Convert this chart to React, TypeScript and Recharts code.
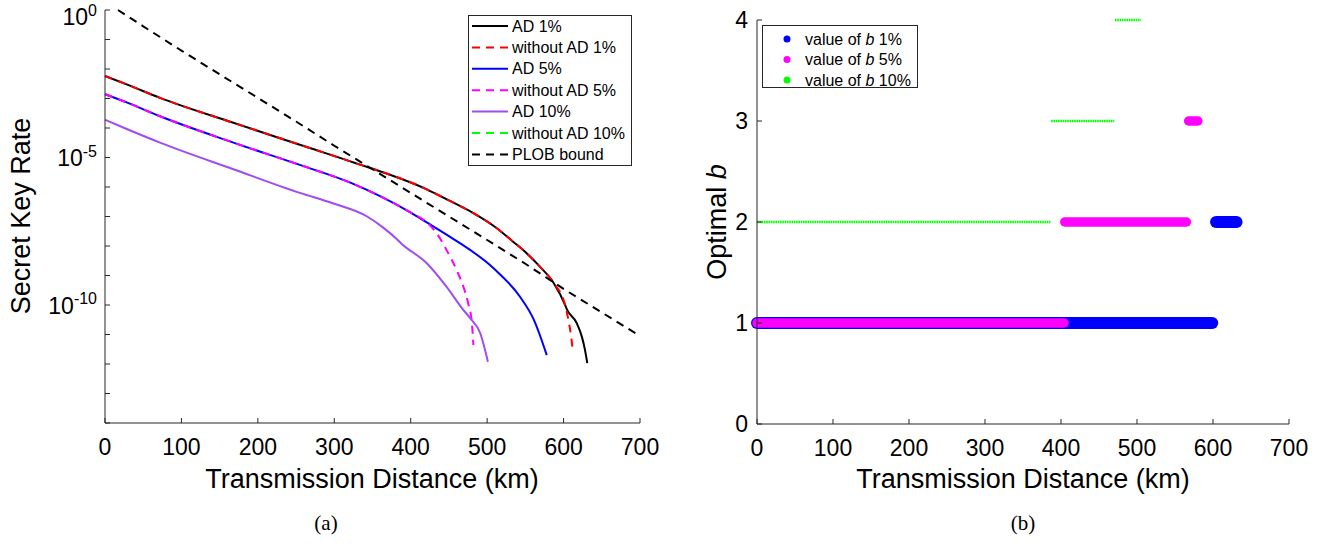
import { LineChart, Line, XAxis, YAxis } from 'recharts';

// distance ticks (km), shared by both panels
const KM_TICKS = [0, 100, 200, 300, 400, 500, 600, 700];
// one tick per decade, labels only on 1e0, 1e-5, 1e-10
const RATE_TICKS = [1, 1e-1, 1e-2, 1e-3, 1e-4, 1e-5, 1e-6, 1e-7, 1e-8, 1e-9, 1e-10, 1e-11, 1e-12, 1e-13, 1e-14];
const B_TICKS = [0, 1, 2, 3, 4];

// (a) secret key rate vs distance
const AD1_KM = [0, 30, 72, 168, 268, 321, 421, 450, 482, 510, 534, 552, 569, 587, 602, 604, 617, 624, 628, 631];
const AD1_RATE = [5.8e-3, 2.9e-3, 1.05e-3, 1.5e-4, 2.1e-5, 7.4e-6, 8.3e-7, 3.5e-7, 1.3e-7, 4.5e-8, 1.4e-8, 5.6e-9, 2.0e-9, 5.6e-10, 1.0e-10, 7.4e-11, 2.5e-11, 8.3e-12, 3.0e-12, 1.07e-12];
const NOAD1_KM = [0, 30, 72, 168, 268, 321, 421, 450, 482, 510, 534, 552, 569, 587, 602, 607, 610, 612];
const NOAD1_RATE = [5.8e-3, 2.9e-3, 1.05e-3, 1.5e-4, 2.1e-5, 7.4e-6, 8.3e-7, 3.5e-7, 1.3e-7, 4.5e-8, 1.4e-8, 5.6e-9, 2.0e-9, 5.6e-10, 1.0e-10, 2.5e-11, 8.3e-12, 2.8e-12];
const AD5_KM = [0, 30, 72, 168, 255, 321, 399, 421, 452, 508, 543, 561, 578];
const AD5_RATE = [1.4e-3, 7.1e-4, 2.5e-4, 3.2e-5, 5.6e-6, 1.4e-6, 1.4e-7, 6.3e-8, 2.0e-8, 1.8e-9, 1.9e-10, 3.2e-11, 2.0e-12];
const NOAD5_KM = [0, 30, 72, 168, 255, 321, 399, 421, 434, 447, 460, 469, 475, 480, 482];
const NOAD5_RATE = [1.4e-3, 7.1e-4, 2.5e-4, 3.2e-5, 5.6e-6, 1.4e-6, 1.4e-7, 6.3e-8, 2.7e-8, 7.2e-9, 1.55e-9, 4.1e-10, 1.2e-10, 2.5e-11, 4.4e-12];
const AD10_KM = [0, 30, 72, 168, 255, 298, 343, 364, 382, 388, 421, 447, 467, 478, 491, 501];
const AD10_RATE = [1.9e-4, 8.9e-5, 3.2e-5, 4.0e-6, 6.3e-7, 2.8e-7, 1.0e-7, 4.2e-8, 1.7e-8, 1.2e-8, 2.6e-9, 4.1e-10, 7.9e-11, 3.5e-11, 1.1e-11, 1.2e-12];
const NOAD10_KM: number[] = [];
const NOAD10_RATE: number[] = [];
const PLOB_KM = [17, 50, 100, 150, 200, 250, 300, 350, 400, 450, 500, 550, 600, 650, 700];
const PLOB_RATE = [1.0, 0.28, 0.042, 6.6e-3, 1.05e-3, 1.66e-4, 2.5e-5, 4.0e-6, 6.3e-7, 1.0e-7, 1.6e-8, 2.5e-9, 3.5e-10, 5.6e-11, 8.9e-12];

// (b) optimal b: runs of constant b, [from km, to km, b]
const B1_FROM = [0, 604];
const B1_TO = [599, 631];
const B1_VAL = [1, 2];
const B5_FROM = [0, 405, 568];
const B5_TO = [404, 565, 580];
const B5_VAL = [1, 2, 3];
const B10_FROM = [0, 387, 471];
const B10_TO = [386, 470, 505];
const B10_VAL = [2, 3, 4];

const FONT = '"Liberation Sans", Arial, Helvetica, sans-serif';
const AXIS = '#262626';

const zip = (km: number[], v: number[]) => km.map((k, i) => ({ km: k, v: v[i] }));

const rateSeries = [
  { name: 'AD 1%', km: AD1_KM, rate: AD1_RATE, color: '#000000', dash: undefined, type: 'monotone' },
  { name: 'without AD 1%', km: NOAD1_KM, rate: NOAD1_RATE, color: '#ff0000', dash: '8 6', type: 'monotone' },
  { name: 'AD 5%', km: AD5_KM, rate: AD5_RATE, color: '#0000ff', dash: undefined, type: 'monotone' },
  { name: 'without AD 5%', km: NOAD5_KM, rate: NOAD5_RATE, color: '#ff00ff', dash: '8 6', type: 'monotone' },
  { name: 'AD 10%', km: AD10_KM, rate: AD10_RATE, color: '#a04cf2', dash: undefined, type: 'monotone' },
  { name: 'without AD 10%', km: NOAD10_KM, rate: NOAD10_RATE, color: '#00ff00', dash: '8 6', type: 'monotone' },
  { name: 'PLOB bound', km: PLOB_KM, rate: PLOB_RATE, color: '#000000', dash: '8 6', type: 'linear' },
];

const bSeries = [
  { name: '1%', from: B1_FROM, to: B1_TO, val: B1_VAL, color: '#0000ff', width: 12, dash: undefined, cap: 'round' },
  { name: '5%', from: B5_FROM, to: B5_TO, val: B5_VAL, color: '#ff00ff', width: 9.5, dash: undefined, cap: 'round' },
  { name: '10%', from: B10_FROM, to: B10_TO, val: B10_VAL, color: '#00ff00', width: 2.4, dash: '1.6 0.7', cap: 'butt' },
];

function LogTick(props: any) {
  const { x, y, payload } = props;
  const exp = Math.round(Math.log10(payload.value));
  if (exp % 5 !== 0) return <g />;
  // keep the top label inside the figure, as the original does
  const base = Math.max(y + 8.5, 25);
  return (
    <text x={x} y={base} textAnchor="end" fontFamily={FONT} fill="#000">
      <tspan fontSize={23}>10</tspan>
      <tspan fontSize={16} dy={-9.5}>{exp}</tspan>
    </text>
  );
}

const tickStyle = { fontSize: 23, fill: '#000', fontFamily: FONT };

function RateChart() {
  return (
    <LineChart width={670} height={500} margin={{ top: 10, right: 30, bottom: 17, left: 0 }}>
      <XAxis dataKey="km" type="number" domain={[0, 700]} ticks={KM_TICKS} interval={0} height={60}
        tickSize={-5} tickMargin={21} tick={tickStyle} axisLine={{ stroke: AXIS }} tickLine={{ stroke: AXIS }} />
      <XAxis xAxisId="top" orientation="top" dataKey="km" type="number" domain={[0, 700]} ticks={KM_TICKS}
        interval={0} height={0} mirror tick={false} axisLine={{ stroke: AXIS }} tickLine={{ stroke: AXIS }} tickSize={5} />
      <YAxis dataKey="v" type="number" scale="log" domain={[1e-14, 1]} ticks={RATE_TICKS} interval={0} width={105}
        tickSize={-5} tickMargin={13} tick={<LogTick />} axisLine={{ stroke: AXIS }} tickLine={{ stroke: AXIS }} />
      <YAxis yAxisId="right" orientation="right" dataKey="v" type="number" scale="log" domain={[1e-14, 1]}
        ticks={RATE_TICKS} interval={0} width={0} mirror tick={false} axisLine={{ stroke: AXIS }} tickLine={{ stroke: AXIS }} tickSize={5} />
      {rateSeries.map((s) => (
        <Line key={s.name} data={zip(s.km, s.rate)} dataKey="v" name={s.name} type={s.type as any}
          stroke={s.color} strokeWidth={2} strokeDasharray={s.dash} dot={false} isAnimationActive={false} />
      ))}
    </LineChart>
  );
}

function BChart() {
  return (
    <LineChart width={670} height={500} margin={{ top: 20, right: 51, bottom: 16, left: 0 }}>
      <XAxis dataKey="km" type="number" domain={[0, 700]} ticks={KM_TICKS} interval={0} height={60}
        tickSize={-5} tickMargin={21} tick={tickStyle} axisLine={{ stroke: AXIS }} tickLine={{ stroke: AXIS }} />
      <XAxis xAxisId="top" orientation="top" dataKey="km" type="number" domain={[0, 700]} ticks={KM_TICKS}
        interval={0} height={0} mirror tick={false} axisLine={{ stroke: AXIS }} tickLine={{ stroke: AXIS }} tickSize={5} />
      <YAxis dataKey="b" type="number" domain={[0, 4]} ticks={B_TICKS} interval={0} width={87}
        tickSize={-5} tickMargin={14} tick={tickStyle} axisLine={{ stroke: AXIS }} tickLine={{ stroke: AXIS }} />
      <YAxis yAxisId="right" orientation="right" dataKey="b" type="number" domain={[0, 4]} ticks={B_TICKS}
        interval={0} width={0} mirror tick={false} axisLine={{ stroke: AXIS }} tickLine={{ stroke: AXIS }} tickSize={5} />
      {bSeries.flatMap((s) =>
        s.from.map((f, i) => (
          <Line key={s.name + i} data={[{ km: f, b: s.val[i] }, { km: s.to[i], b: s.val[i] }]} dataKey="b"
            type="linear" stroke={s.color} strokeWidth={s.width} strokeLinecap={s.cap as any}
            strokeDasharray={s.dash} dot={false} isAnimationActive={false} />
        ))
      )}
    </LineChart>
  );
}

function Overlay() {
  const legendY = (i: number) => 26 + i * 21.4;
  return (
    <svg width={1340} height={544} style={{ position: 'absolute', left: 0, top: 0, pointerEvents: 'none' }}
      fontFamily={FONT}>
      <text x={30} y={216} transform="rotate(-90 30 216)" textAnchor="middle" fontSize={27}>Secret Key Rate</text>
      <text x={372} y={488} textAnchor="middle" fontSize={27}>Transmission Distance (km)</text>
      <text x={726} y={222} transform="rotate(-90 726 222)" textAnchor="middle" fontSize={27}>
        Optimal <tspan fontStyle="italic">b</tspan>
      </text>
      <text x={1023} y={488} textAnchor="middle" fontSize={27}>Transmission Distance (km)</text>
      <text x={326} y={530} textAnchor="middle" fontSize={21} fontFamily='"Liberation Serif", serif'>(a)</text>
      <text x={1023} y={530} textAnchor="middle" fontSize={21} fontFamily='"Liberation Serif", serif'>(b)</text>

      <rect x={468.5} y={15.5} width={163} height={150} fill="#fff" stroke={AXIS} />
      {rateSeries.map((s, i) => (
        <g key={s.name}>
          <line x1={472} x2={508} y1={legendY(i)} y2={legendY(i)} stroke={s.color} strokeWidth={2}
            strokeDasharray={s.dash} />
          <text x={512} y={legendY(i)} dy={5.5} fontSize={16}>{s.name}</text>
        </g>
      ))}

      <rect x={762.5} y={25.5} width={155} height={62} fill="#fff" stroke={AXIS} />
      {bSeries.map((s, i) => (
        <g key={s.name}>
          <circle cx={787} cy={39 + i * 20.5} r={3.5} fill={s.color} />
          <text x={805} y={39 + i * 20.5} dy={5.5} fontSize={16}>
            value of <tspan fontStyle="italic">b</tspan> {s.name}
          </text>
        </g>
      ))}
    </svg>
  );
}

export default function App() {
  return (
    <div style={{ position: 'absolute', left: 0, top: 0, width: 1340, height: 544, background: '#fff' }}>
      <div style={{ position: 'absolute', left: 0, top: 0 }}>
        <RateChart />
      </div>
      <div style={{ position: 'absolute', left: 670, top: 0 }}>
        <BChart />
      </div>
      <Overlay />
    </div>
  );
}
